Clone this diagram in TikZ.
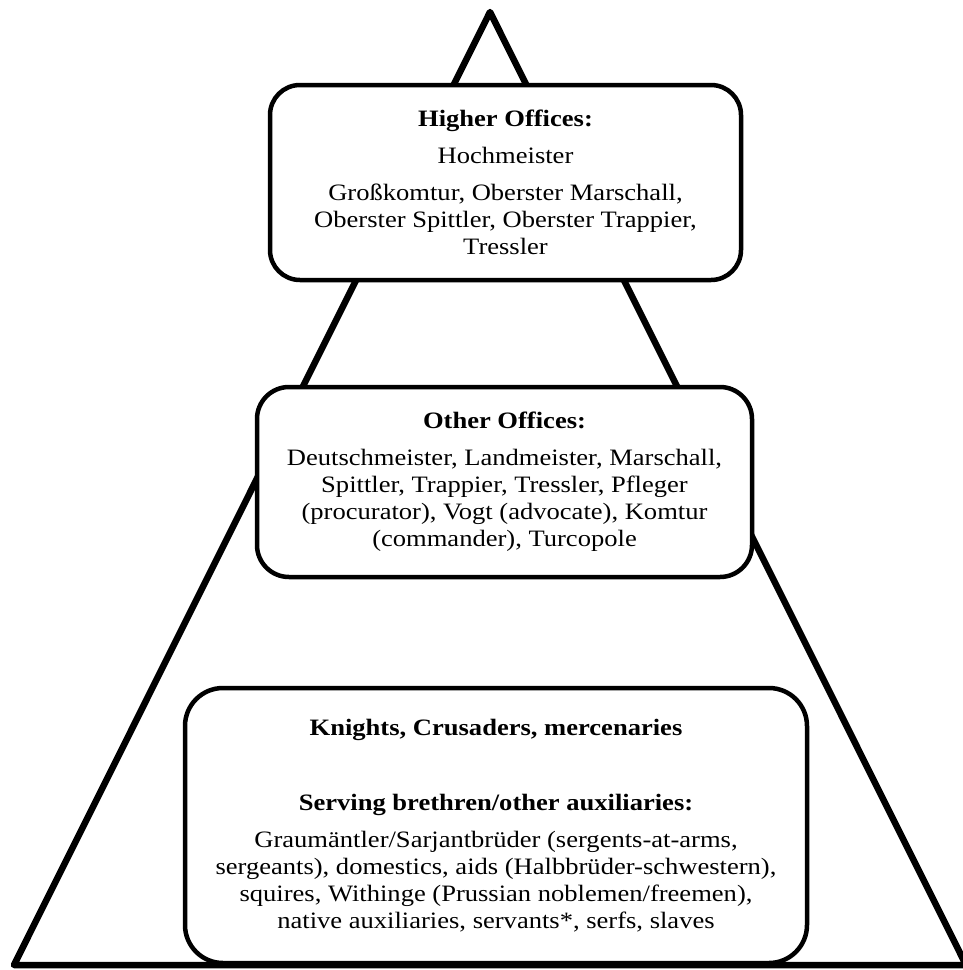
\documentclass[tikz,border=0pt]{standalone}
\usepackage{fontspec}
\setmainfont{Liberation Serif}[FakeStretch=1.13]

\tikzset{tier/.style={draw, line width=4.5pt, fill=white, align=center, inner sep=0pt,
    font=\fontsize{23.5}{27}\selectfont}}

\begin{document}
\begin{tikzpicture}[x=1pt, y=-1pt]
      \useasboundingbox (0,0) rectangle (963,970);

      \coordinate (apex) at (490,12);
      \coordinate (baseleft) at (14,965);
      \coordinate (baseright) at (966,965);
      \draw[line width=6.5pt, line join=round] (apex) -- (baseleft) -- (baseright) -- cycle;

      \node[tier, rounded corners=30pt, minimum width=471pt, minimum height=195pt] (higher) at (505.5,182.5)
          {\textbf{Higher Offices:}\\[10pt] Hochmeister\\[10pt] Großkomtur, Oberster Marschall,\\ Oberster Spittler, Oberster Trappier,\\ Tressler};
      \node[tier, rounded corners=32pt, minimum width=495pt, minimum height=190pt] (other) at (504.5,482)
          {\textbf{Other Offices:}\\[10pt] Deutschmeister, Landmeister, Marschall,\\ Spittler, Trappier, Tressler, Pfleger\\ (procurator), Vogt (advocate), Komtur\\ (commander), Turcopole};
      \node[tier, rounded corners=38pt, minimum width=622pt, minimum height=275pt] (brethren) at (496,825.5)
          {\textbf{Knights, Crusaders, mercenaries}\\[48pt] \textbf{Serving brethren/other auxiliaries:}\\[10pt] Graumäntler/Sarjantbrüder (sergents-at-arms,\\ sergeants), domestics, aids (Halbbrüder-schwestern),\\ squires, Withinge (Prussian noblemen/freemen),\\ native auxiliaries, servants*, serfs, slaves};
    \end{tikzpicture}
\end{document}
